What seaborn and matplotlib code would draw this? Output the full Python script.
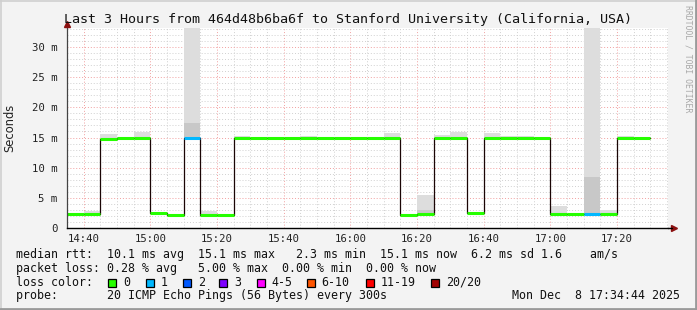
import numpy as np
import pandas as pd
import matplotlib
matplotlib.use("Agg")
import matplotlib.pyplot as plt
from matplotlib.patches import Rectangle
from matplotlib.lines import Line2D
import seaborn as sns

# ---------------- data ----------------
title = "Last 3 Hours from 464d48b6ba6f to Stanford University (California, USA)"
# bin start, minutes after 14:00 (5-minute steps, 14:35 .. 17:30)
bin_start_min = [35, 40, 45, 50, 55, 60, 65, 70, 75, 80, 85, 90, 95, 100, 105, 110, 115,
                 120, 125, 130, 135, 140, 145, 150, 155, 160, 165, 170, 175, 180, 185,
                 190, 195, 200, 205, 210]
median_ms = [2.3, 2.3, 14.8, 15.0, 15.0, 2.55, 2.2, 15.0, 2.2, 2.2, 15.0, 15.0, 15.0,
             15.0, 15.0, 15.0, 15.0, 15.0, 15.0, 15.0, 2.15, 2.35, 15.0, 15.0, 2.55,
             15.0, 15.0, 15.0, 15.0, 2.3, 2.3, 2.3, 2.3, 15.0, 15.0, np.nan]
loss_count = [0, 0, 0, 0, 0, 0, 0, 1, 0, 0, 0, 0, 0, 0, 0, 0, 0, 0, 0, 0, 0, 0, 0, 0,
              0, 0, 0, 0, 0, 0, 0, 1, 0, 0, 0, -1]
smoke_hi_ms = [2.4, 2.8, 15.5, 15.1, 15.9, 2.6, 2.3, 40.0, 2.9, 2.3, 15.2, 15.1, 15.1,
               15.1, 15.3, 15.1, 15.1, 15.1, 15.1, 15.8, 2.2, 5.5, 15.4, 15.9, 2.6,
               15.8, 15.3, 15.3, 15.1, 3.6, 2.4, 40.0, 3.0, 15.3, 15.1, np.nan]
smoke_mid_ms = [2.3, 2.3, 14.8, 15.0, 15.0, 2.55, 2.2, 17.4, 2.2, 2.2, 15.0, 15.0, 15.0,
                15.0, 15.0, 15.0, 15.0, 15.0, 15.0, 15.0, 2.15, 3.0, 15.0, 15.0, 2.55,
                15.0, 15.0, 15.0, 15.0, 2.3, 2.3, 8.5, 2.3, 15.0, 15.0, np.nan]
x_tick_min = [40, 60, 80, 100, 120, 140, 160, 180, 200]
x_tick_labels = ["14:40", "15:00", "15:20", "15:40", "16:00", "16:20", "16:40", "17:00", "17:20"]
y_tick_ms = [0, 5, 10, 15, 20, 25, 30]
y_tick_labels = ["0", "5 m", "10 m", "15 m", "20 m", "25 m", "30 m"]

loss_labels = ["0", "1", "2", "3", "4-5", "6-10", "11-19", "20/20"]
loss_colors = ["#26ff00", "#00b8ff", "#0059ff", "#7e00ff", "#ff00ff", "#ff5500", "#ff0000", "#a10000"]

stat_lines = [
    "median rtt:  10.1 ms avg  15.1 ms max   2.3 ms min  15.1 ms now  6.2 ms sd 1.6    am/s",
    "packet loss: 0.28 % avg   5.00 % max  0.00 % min  0.00 % now",
]
probe_text = "probe:       20 ICMP Echo Pings (56 Bytes) every 300s"
date_text = "Mon Dec  8 17:34:44 2025"
watermark = "RRDTOOL / TOBI OETIKER"

# ---------------- figure ----------------
sns.set_theme(style="white")
plt.rcParams["font.family"] = ["DejaVu Sans Mono", "DejaVu Sans"]

W, H = 697, 310
fig = plt.figure(figsize=(W / 100, H / 100), dpi=100, facecolor="#f3f3f3")

def fx(px):
    return px / W

def fy(py):
    return 1 - py / H

L, R, T, B = 67, 668, 28, 228
ax = fig.add_axes([fx(L), fy(B), (R - L) / W, (B - T) / H])
ax.set_facecolor("white")

px_per_min = 66.667 / 20
ax.set_xlim(35, 35 + (R - L) / px_per_min)
px_per_ms = (228 - 47) / 30
ax.set_ylim(0, (B - T) / px_per_ms)

df = pd.DataFrame({
    "t": bin_start_min, "median": median_ms, "loss": loss_count,
    "hi": smoke_hi_ms, "mid": smoke_mid_ms,
})
valid = df.dropna()

# grid
ax.set_xticks(x_tick_min)
ax.set_xticks(np.arange(35, 216, 5), minor=True)
ax.set_yticks(y_tick_ms)
ax.set_yticks(np.arange(0, 34, 1), minor=True)
ax.grid(which="minor", color="#d0d0d0", linestyle=(0, (1, 2)), linewidth=0.7)
ax.grid(which="major", color="#f2a0a0", linestyle=(0, (1, 2)), linewidth=0.7)
ax.set_axisbelow(True)

# smoke
ax.bar(valid["t"], valid["hi"] - valid["median"], bottom=valid["median"], width=5,
       align="edge", color="#dddddd", linewidth=0, zorder=2)
ax.bar(valid["t"], valid["mid"] - valid["median"], bottom=valid["median"], width=5,
       align="edge", color="#c8c8c8", linewidth=0, zorder=2)

# step connector
step_df = pd.DataFrame({"t": bin_start_min[:-1] + [bin_start_min[-1]],
                        "median": median_ms[:-1] + [median_ms[-2]]})
sns.lineplot(data=step_df, x="t", y="median", drawstyle="steps-post", color="#1a0505",
             linewidth=0.9, ax=ax, zorder=3, estimator=None)

# loss-coloured median segments
seg_colors = [loss_colors[int(l)] for l in valid["loss"]]
ax.hlines(valid["median"], valid["t"], valid["t"] + 5, colors=seg_colors,
          linewidth=2.2, zorder=4)

ax.set_xlabel("")
ax.set_ylabel("")
ax.set_xticklabels(x_tick_labels, fontsize=7.7, color="#222222")
ax.set_yticklabels(y_tick_labels, fontsize=7.7, color="#222222")
ax.tick_params(axis="x", which="both", length=0, pad=4)
ax.tick_params(axis="y", which="both", length=0, pad=7)

for s in ["top", "right"]:
    ax.spines[s].set_visible(False)
ax.spines["left"].set_color("#444444")
ax.spines["left"].set_linewidth(0.9)
ax.spines["bottom"].set_color("#000000")
ax.spines["bottom"].set_linewidth(1.0)
ax.spines["left"].set_zorder(6)
ax.spines["bottom"].set_zorder(6)

# axis arrows
fig.add_artist(Line2D([fx(R), fx(672)], [fy(B), fy(B)], color="black", linewidth=1.0))
ax.plot([1.0 + 6 / (R - L)], [0], marker=">", color="#8b1010", markersize=5,
        transform=ax.transAxes, clip_on=False, zorder=7)
ax.plot([0], [1.0 + 4 / (B - T)], marker="^", color="#8b1010", markersize=5,
        transform=ax.transAxes, clip_on=False, zorder=7)

# title, labels
fig.text(0.5, fy(19), title, ha="center", va="center", fontsize=9.6, color="#111111")
fig.text(fx(10), fy(127.5), "Seconds", rotation=90, ha="center", va="center",
         fontsize=8.3, family=["DejaVu Sans"], color="#222222")
fig.text(fx(688), fy(59), watermark, rotation=270, ha="center", va="center",
         fontsize=5.9, color="#a8a8a8")

# legend / stats
fs = 8.4
fig.text(fx(16), fy(254.3), stat_lines[0], ha="left", va="center", fontsize=fs, color="#111111")
fig.text(fx(16), fy(268.3), stat_lines[1], ha="left", va="center", fontsize=fs, color="#111111")
fig.text(fx(16), fy(282.3), "loss color:", ha="left", va="center", fontsize=fs, color="#111111")
box_x = [108.3, 145.7, 182.7, 219.3, 256.7, 306.7, 365.7, 431]
for bx, lab, col in zip(box_x, loss_labels, loss_colors):
    fig.add_artist(Rectangle((fx(bx), fy(286.5)), 8 / W, 8 / H, facecolor=col,
                             edgecolor="black", linewidth=0.9))
    fig.text(fx(bx + 15), fy(282.3), lab, ha="left", va="center", fontsize=fs, color="#111111")
fig.text(fx(16), fy(295.7), probe_text, ha="left", va="center", fontsize=fs, color="#111111")
fig.text(fx(680), fy(295.7), date_text, ha="right", va="center", fontsize=fs, color="#111111")

# frame of the image
fig.add_artist(Line2D([0, 1], [fy(0.5), fy(0.5)], color="#cfcfcf", linewidth=1.2))
fig.add_artist(Line2D([fx(0.5), fx(0.5)], [0, 1], color="#cfcfcf", linewidth=1.2))
fig.add_artist(Line2D([0, 1], [fy(H - 1), fy(H - 1)], color="#9a9a9a", linewidth=2.0))
fig.add_artist(Line2D([fx(W - 1), fx(W - 1)], [0, 1], color="#9a9a9a", linewidth=2.0))

fig.savefig("out.png", dpi=100, facecolor=fig.get_facecolor())
